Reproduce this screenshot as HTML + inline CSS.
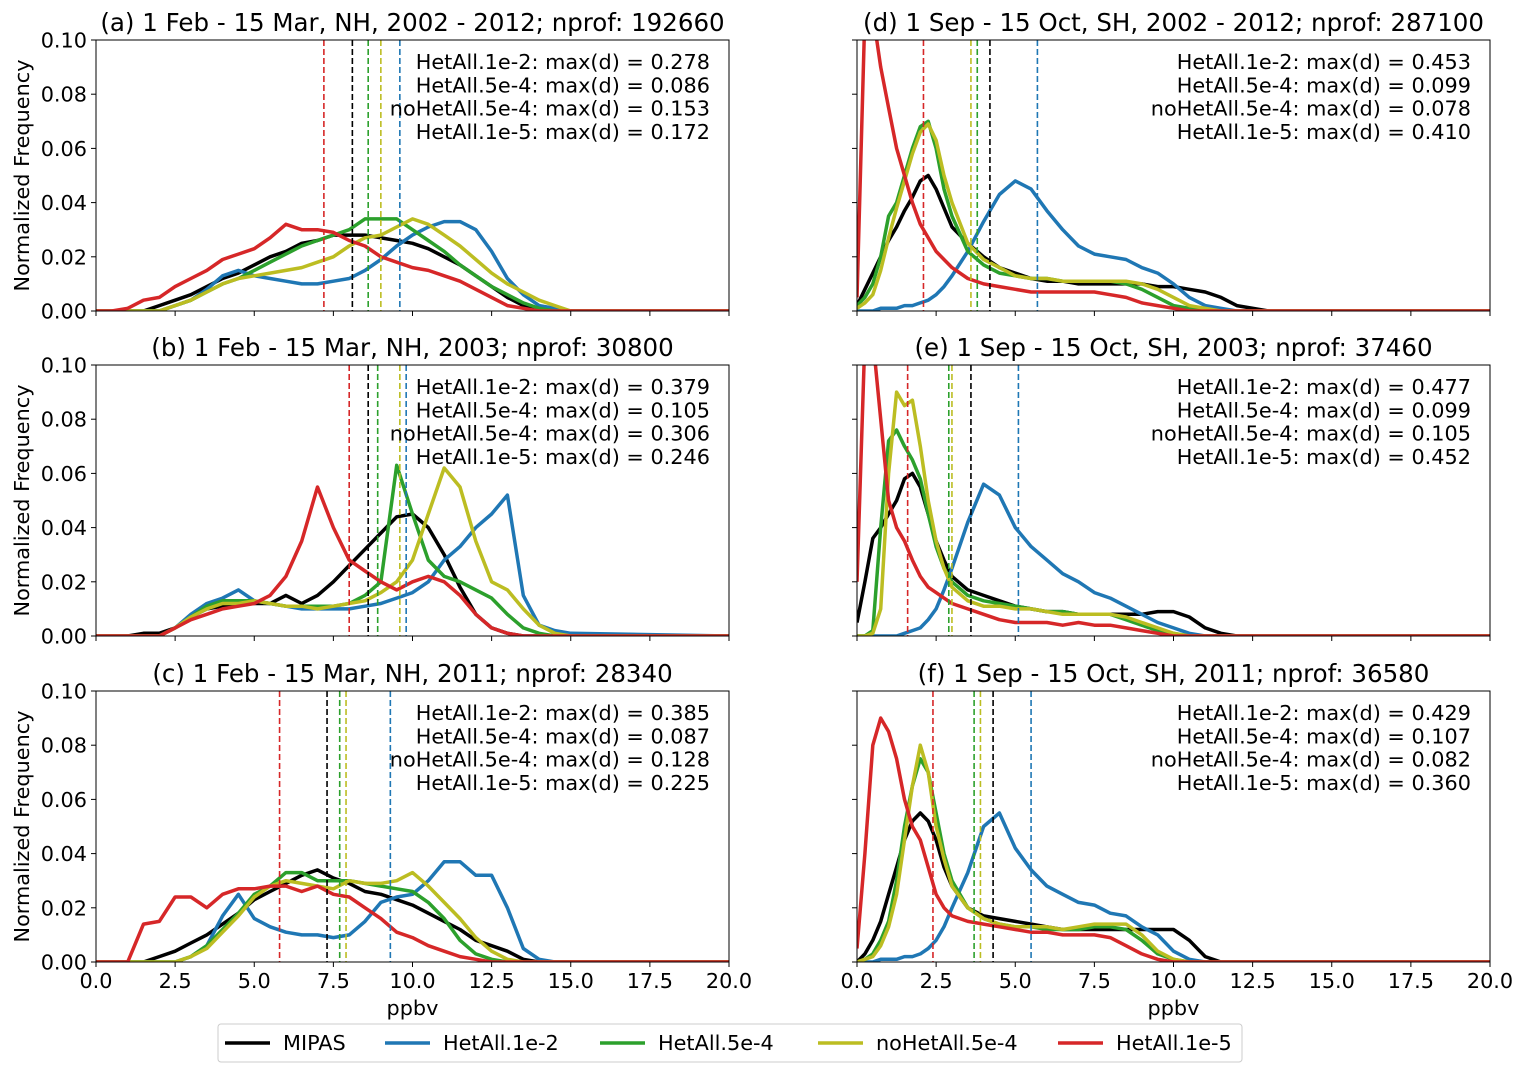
<!DOCTYPE html>
<html><head><meta charset="utf-8"><style>
body{margin:0;background:#fff}
svg{display:block;font-family:"DejaVu Sans","Liberation Sans",sans-serif}
</style></head><body>
<svg id="chart" width="1525" height="1078" viewBox="0 0 1525 1078" xmlns="http://www.w3.org/2000/svg"></svg>
<script>
const seriesNames=["MIPAS","HetAll.1e-2","HetAll.5e-4","noHetAll.5e-4","HetAll.1e-5"];
const colors=["#000000","#1f77b4","#2ca02c","#bcbd22","#d62728"];
const gridL=[0,0.5,1,1.5,2,2.5,3,3.5,4,4.5,5,5.5,6,6.5,7,7.5,8,8.5,9,9.5,10,10.5,11,11.5,12,12.5,13,13.5,14,14.5,15,20];
const gridR=[0,.25,.5,.75,1,1.25,1.5,1.75,2,2.25,2.5,2.75,3,3.5,4,4.5,5,5.5,6,6.5,7,7.5,8,8.5,9,9.5,10,10.5,11,11.5,12,13,20];
const xTicks=[0,2.5,5,7.5,10,12.5,15,17.5,20];
const xTickLabels=["0.0","2.5","5.0","7.5","10.0","12.5","15.0","17.5","20.0"];
const yTicks=[0,0.02,0.04,0.06,0.08,0.10];
const yTickLabels=["0.00","0.02","0.04","0.06","0.08","0.10"];
const titles=["(a) 1 Feb - 15 Mar, NH, 2002 - 2012; nprof: 192660","(b) 1 Feb - 15 Mar, NH, 2003; nprof: 30800","(c) 1 Feb - 15 Mar, NH, 2011; nprof: 28340","(d) 1 Sep - 15 Oct, SH, 2002 - 2012; nprof: 287100","(e) 1 Sep - 15 Oct, SH, 2003; nprof: 37460","(f) 1 Sep - 15 Oct, SH, 2011; nprof: 36580"];
const statsA=["0.278","0.086","0.153","0.172"];
const statsB=["0.379","0.105","0.306","0.246"];
const statsC=["0.385","0.087","0.128","0.225"];
const statsD=["0.453","0.099","0.078","0.410"];
const statsE=["0.477","0.099","0.105","0.452"];
const statsF=["0.429","0.107","0.082","0.360"];
const statLabels=["HetAll.1e-2","HetAll.5e-4","noHetAll.5e-4","HetAll.1e-5"];
const medA=[8.1,9.6,8.6,9.0,7.2];
const medB=[8.6,9.8,8.9,9.6,8.0];
const medC=[7.3,9.3,7.7,7.9,5.8];
const medD=[4.2,5.7,3.8,3.6,2.1];
const medE=[3.6,5.1,2.9,3.0,1.6];
const medF=[4.3,5.5,3.7,3.9,2.4];
const aBlack=[0,0,0,0,.002,.004,.006,.009,.012,.014,.017,.02,.022,.025,.026,.028,.028,.028,.027,.026,.025,.023,.02,.017,.013,.009,.005,.002,.001,0,0,0];
const aBlue=[0,0,0,0,0,.002,.004,.008,.013,.015,.013,.012,.011,.010,.010,.011,.012,.015,.019,.024,.028,.031,.033,.033,.030,.022,.012,.006,.002,.001,0,0];
const aGreen=[0,0,0,0,0,.002,.004,.007,.010,.012,.015,.018,.021,.024,.026,.028,.030,.034,.034,.034,.030,.026,.022,.017,.013,.009,.006,.003,.001,0,0,0];
const aYellow=[0,0,0,0,0,.002,.004,.007,.010,.012,.013,.014,.015,.016,.018,.020,.024,.027,.028,.031,.034,.032,.028,.024,.019,.014,.010,.007,.004,.002,0,0];
const aRed=[0,0,.001,.004,.005,.009,.012,.015,.019,.021,.023,.027,.032,.030,.030,.029,.026,.024,.020,.018,.016,.015,.013,.011,.008,.005,.002,.001,0,0,0,0];
const bBlack=[0,0,0,.001,.001,.003,.007,.010,.011,.012,.012,.012,.015,.012,.015,.020,.026,.032,.038,.044,.045,.040,.030,.018,.008,.003,.001,0,0,0,0,0];
const bBlue=[0,0,0,0,0,.003,.008,.012,.014,.017,.013,.012,.011,.010,.010,.010,.010,.011,.012,.014,.016,.020,.028,.033,.040,.045,.052,.015,.004,.002,.001,0];
const bGreen=[0,0,0,0,0,.003,.007,.011,.013,.013,.013,.012,.011,.011,.011,.011,.012,.015,.020,.063,.045,.028,.022,.020,.017,.014,.008,.003,.001,0,0,0];
const bYellow=[0,0,0,0,0,.003,.007,.010,.012,.012,.013,.012,.011,.011,.010,.011,.012,.013,.016,.020,.028,.045,.062,.055,.035,.020,.017,.010,.004,.001,0,0];
const bRed=[0,0,0,0,0,.003,.006,.008,.010,.011,.012,.015,.022,.035,.055,.040,.028,.024,.020,.017,.020,.022,.020,.015,.008,.003,.001,0,0,0,0,0];
const cBlack=[0,0,0,0,.002,.004,.007,.010,.014,.018,.023,.026,.029,.032,.034,.031,.029,.026,.025,.023,.021,.018,.015,.012,.008,.006,.004,.001,0,0,0,0];
const cBlue=[0,0,0,0,0,0,.002,.006,.017,.025,.016,.013,.011,.010,.010,.009,.010,.015,.022,.024,.025,.030,.037,.037,.032,.032,.020,.005,.001,0,0,0];
const cGreen=[0,0,0,0,0,0,.002,.006,.012,.018,.025,.028,.033,.033,.030,.030,.030,.029,.028,.027,.026,.022,.016,.008,.003,.001,0,0,0,0,0,0];
const cYellow=[0,0,0,0,0,0,.002,.005,.011,.017,.024,.028,.030,.029,.028,.027,.030,.029,.029,.030,.033,.028,.022,.016,.009,.004,.001,0,0,0,0,0];
const cRed=[0,0,0,.014,.015,.024,.024,.020,.025,.027,.027,.028,.028,.026,.028,.025,.024,.020,.016,.011,.009,.006,.004,.002,.001,0,0,0,0,0,0,0];
const dBlack=[.002,.008,.014,.020,.026,.031,.037,.042,.048,.050,.045,.038,.031,.025,.020,.016,.014,.012,.011,.011,.010,.010,.010,.010,.010,.009,.009,.008,.007,.005,.002,0,0];
const dBlue=[0,0,0,.001,.001,.001,.002,.002,.003,.004,.006,.009,.013,.022,.033,.043,.048,.045,.037,.030,.024,.021,.020,.019,.016,.014,.010,.005,.002,.001,0,0,0];
const dGreen=[.002,.005,.010,.020,.035,.040,.050,.060,.068,.070,.060,.045,.035,.022,.017,.014,.013,.012,.012,.011,.011,.011,.011,.010,.008,.005,.002,.001,0,0,0,0,0];
const dYellow=[.001,.003,.006,.015,.027,.038,.048,.058,.066,.069,.063,.050,.040,.025,.019,.016,.013,.012,.012,.011,.011,.011,.011,.011,.010,.008,.005,.002,.001,0,0,0,0];
const dRed=[.005,.11,.11,.09,.075,.060,.050,.040,.032,.027,.022,.019,.016,.012,.010,.009,.008,.007,.007,.007,.007,.007,.006,.005,.003,.002,.001,0,0,0,0,0,0];
const eBlack=[.005,.020,.036,.040,.045,.050,.058,.060,.055,.045,.035,.028,.022,.017,.015,.013,.011,.010,.009,.009,.008,.008,.008,.008,.008,.009,.009,.007,.003,.001,0,0,0];
const eBlue=[0,0,0,0,0,0,.001,.002,.003,.006,.010,.017,.025,.042,.056,.052,.040,.033,.028,.023,.020,.016,.014,.011,.008,.005,.003,.001,0,0,0,0,0];
const eGreen=[0,0,.002,.040,.072,.076,.070,.065,.058,.045,.033,.025,.020,.015,.013,.012,.011,.010,.009,.009,.008,.008,.008,.006,.004,.002,.001,0,0,0,0,0,0];
const eYellow=[0,0,.001,.010,.060,.090,.085,.087,.070,.050,.035,.025,.018,.013,.011,.011,.010,.010,.009,.008,.008,.008,.008,.007,.005,.003,.001,0,0,0,0,0,0];
const eRed=[.02,.11,.11,.08,.050,.040,.035,.028,.022,.018,.016,.014,.012,.010,.008,.006,.005,.005,.005,.004,.005,.004,.004,.003,.002,.001,0,0,0,0,0,0,0];
const fBlack=[0,.003,.008,.015,.025,.035,.045,.052,.055,.052,.045,.035,.028,.020,.017,.016,.015,.014,.013,.012,.012,.012,.012,.012,.012,.012,.012,.008,.002,0,0,0,0];
const fBlue=[0,0,0,.001,.001,.001,.002,.002,.003,.005,.008,.013,.020,.033,.050,.055,.042,.034,.028,.025,.022,.021,.018,.017,.013,.010,.004,.001,0,0,0,0,0];
const fGreen=[0,.001,.003,.008,.015,.030,.050,.065,.075,.070,.055,.040,.030,.020,.016,.014,.013,.013,.012,.012,.012,.013,.013,.012,.008,.003,.001,0,0,0,0,0,0];
const fYellow=[0,.001,.002,.006,.013,.025,.045,.065,.080,.070,.050,.038,.028,.020,.016,.014,.013,.013,.013,.012,.013,.014,.014,.014,.010,.004,.001,0,0,0,0,0,0];
const fRed=[.005,.040,.080,.090,.085,.075,.060,.050,.045,.035,.025,.020,.017,.015,.014,.013,.012,.011,.011,.010,.010,.010,.009,.006,.003,.001,0,0,0,0,0,0,0];

const panels=[
 {id:"a",grid:gridL,series:[aBlack,aBlue,aGreen,aYellow,aRed],med:medA,stats:statsA,L:96,T:40,col:0,row:0},
 {id:"b",grid:gridL,series:[bBlack,bBlue,bGreen,bYellow,bRed],med:medB,stats:statsB,L:96,T:365,col:0,row:1},
 {id:"c",grid:gridL,series:[cBlack,cBlue,cGreen,cYellow,cRed],med:medC,stats:statsC,L:96,T:691,col:0,row:2},
 {id:"d",grid:gridR,series:[dBlack,dBlue,dGreen,dYellow,dRed],med:medD,stats:statsD,L:857,T:40,col:1,row:0},
 {id:"e",grid:gridR,series:[eBlack,eBlue,eGreen,eYellow,eRed],med:medE,stats:statsE,L:857,T:365,col:1,row:1},
 {id:"f",grid:gridR,series:[fBlack,fBlue,fGreen,fYellow,fRed],med:medF,stats:statsF,L:857,T:691,col:1,row:2}
];
const W=633,H=271;
const FS=20.8;
const NS="http://www.w3.org/2000/svg";
const svg=document.getElementById("chart");
function mk(tag,attrs,parent){const e=document.createElementNS(NS,tag);for(const k in attrs)e.setAttribute(k,attrs[k]);(parent||svg).appendChild(e);return e;}

panels.forEach((p,pi)=>{
 const g=mk("g",{});
 
 
 const sx=v=>p.L+v/20*W;
 const sy=v=>p.T+H-v/0.1*H;
 const cid="clip"+p.id;
 const cp=mk("clipPath",{id:cid},g);
 mk("rect",{x:p.L,y:p.T,width:W,height:H},cp);
 p.series.forEach((vals,si)=>{
  const d=vals.map((v,i)=>(i?"L":"M")+sx(p.grid[i]).toFixed(1)+","+sy(v).toFixed(1)).join("");
  const path=mk("path",{d:d,fill:"none",stroke:colors[si],"stroke-width":3.5,"stroke-linejoin":"round","clip-path":"url(#"+cid+")"},g);
  
  
 });
 p.med.forEach((m,si)=>{
  const ln=mk("line",{x1:sx(m),x2:sx(m),y1:p.T,y2:p.T+H,stroke:colors[si],"stroke-width":1.6,"stroke-dasharray":"6,3"},g);
  
  
 });
 const fr=mk("rect",{x:p.L,y:p.T,width:W,height:H,fill:"none",stroke:"#000","stroke-width":1},g);
 
 
 yTicks.forEach((t,i)=>{
  mk("line",{x1:p.L-5,x2:p.L,y1:sy(t),y2:sy(t),stroke:"#000","stroke-width":1},g);
  if(p.col===0){
   const tx=mk("text",{x:p.L-9,y:sy(t)+7.5,"text-anchor":"end","font-size":FS},g);
   tx.textContent=yTickLabels[i];
   
   
  }
 });
 xTicks.forEach((t,i)=>{
  mk("line",{x1:sx(t),x2:sx(t),y1:p.T+H,y2:p.T+H+5,stroke:"#000","stroke-width":1},g);
  if(p.row===2){
   const tx=mk("text",{x:sx(t),y:p.T+H+26,"text-anchor":"middle","font-size":FS},g);
   tx.textContent=xTickLabels[i];
   
   
  }
 });
 const ti=mk("text",{x:p.L+W/2,y:p.T-9,"text-anchor":"middle","font-size":24.5},g);
 ti.textContent=titles[pi];
 
 
 p.stats.forEach((s,i)=>{
  const st=mk("text",{x:p.L+W-19,y:p.T+29+i*23.3,"text-anchor":"end","font-size":FS},g);
  st.textContent=statLabels[i]+": max(d) = "+s;
  
  
 });
 if(p.col===0){
  const yl=mk("text",{x:0,y:0,"text-anchor":"middle","font-size":FS,transform:"translate(29,"+(p.T+H/2)+") rotate(-90)"},g);
  yl.textContent="Normalized Frequency";
  
  
 }
 if(p.row===2){
  const xl=mk("text",{x:p.L+W/2,y:1015,"text-anchor":"middle","font-size":FS},g);
  xl.textContent="ppbv";
  
  
 }
});
const lg=mk("g",{});


mk("rect",{x:218,y:1024,width:1024,height:38,rx:3,fill:"#fff",stroke:"#ccc","stroke-width":1},lg);
const legX=[225,385,600,818,1058];
seriesNames.forEach((n,i)=>{
 const e=mk("g",{},lg);
 
 
 mk("line",{x1:legX[i],x2:legX[i]+45,y1:1043,y2:1043,stroke:colors[i],"stroke-width":3.5},e);
 const t=mk("text",{x:legX[i]+58,y:1050,"font-size":FS},e);
 t.textContent=n;
});
</script>
</body></html>
